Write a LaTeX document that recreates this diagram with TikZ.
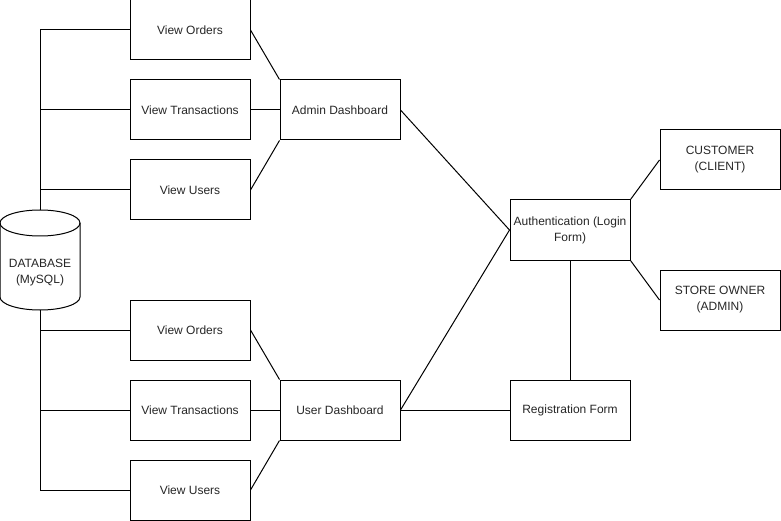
\documentclass[tikz,border=0pt]{standalone}
\usepackage{fontspec}
\setmainfont{Liberation Sans}
\begin{document}
\begin{tikzpicture}[x=1pt,y=-1pt,
  box/.style={draw=black,line width=1pt,minimum width=120pt,minimum height=60pt,inner sep=0pt,font=\fontsize{12}{16}\selectfont,align=center,text=black!85},
  conn/.style={draw=black,line width=1pt}]
\useasboundingbox (0,0) rectangle (781,521);
% admin side boxes
\node[box] (vo1) at (190,30) {View Orders};
\node[box] (vt1) at (190,110) {View Transactions};
\node[box] (vu1) at (190,190) {View Users};
\node[box] (ad) at (340,110) {Admin Dashboard};
% user side boxes
\node[box] (vo2) at (190,330) {View Orders};
\node[box] (vt2) at (190,410) {View Transactions};
\node[box] (vu2) at (190,490) {View Users};
\node[box] (ud) at (340,410) {User Dashboard};
% right side
\node[box] (auth) at (570,230) {Authentication (Login\\Form)};
\node[box] (cust) at (720,160) {CUSTOMER\\(CLIENT)};
\node[box] (own) at (720,300) {STORE OWNER\\(ADMIN)};
\node[box] (reg) at (570,410) {Registration Form};
% database cylinder
\draw[line width=1pt,fill=white] (0,223) -- (0,297) arc[start angle=180,end angle=0,x radius=40,y radius=13] -- (80,223) arc[start angle=0,end angle=-180,x radius=40,y radius=13] -- cycle;
\draw[line width=1pt] (0,223) arc[start angle=180,end angle=0,x radius=40,y radius=13];
\node[font=\fontsize{12}{16}\selectfont,align=center,text=black!85] (db) at (40,273) {DATABASE\\(MySQL)};
\coordinate (dbtop) at (40,210);
\coordinate (dbbot) at (40,310);
% database connectors
\draw[conn] (dbtop) |- (vo1.west);
\draw[conn] (40,110) -- (vt1.west);
\draw[conn] (40,190) -- (vu1.west);
\draw[conn] (dbbot) |- (vu2.west);
\draw[conn] (40,330) -- (vo2.west);
\draw[conn] (40,410) -- (vt2.west);
% to dashboards
\draw[conn] (vo1.east) -- (ad.north west);
\draw[conn] (vt1.east) -- (ad.west);
\draw[conn] (vu1.east) -- (ad.south west);
\draw[conn] (vo2.east) -- (ud.north west);
\draw[conn] (vt2.east) -- (ud.west);
\draw[conn] (vu2.east) -- (ud.south west);
% dashboards to auth
\draw[conn] (ad.east) -- (auth.west);
\draw[conn] (ud.east) -- (auth.west);
\draw[conn] (ud.east) -- (reg.west);
\draw[conn] (reg.north) -- (auth.south);
\draw[conn] (auth.north east) -- (cust.west);
\draw[conn] (auth.south east) -- (own.west);
\end{tikzpicture}
\end{document}
